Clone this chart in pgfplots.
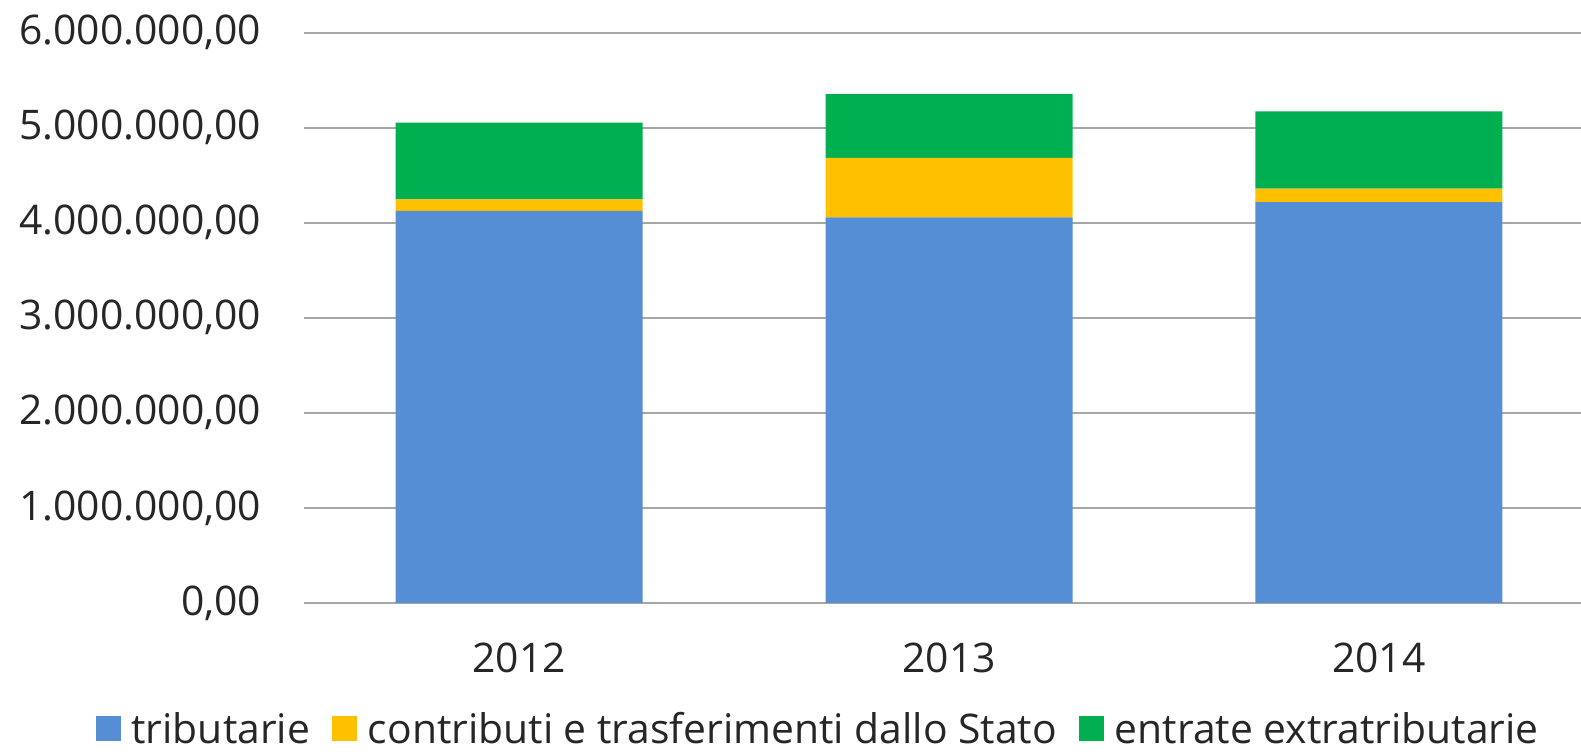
\documentclass[border=0pt]{standalone}
\usepackage{fontspec}
\setmainfont{Open Sans}
\usepackage{pgfplots}
\pgfplotsset{compat=1.18}
\definecolor{cblue}{HTML}{558ED5}
\definecolor{cyellow}{HTML}{FFC000}
\definecolor{cgreen}{HTML}{00B050}
\definecolor{gridgray}{HTML}{A6A6A6}
\definecolor{txt}{HTML}{262626}
\begin{document}
\begin{tikzpicture}
\begin{axis}[
  scale only axis, width=638.2pt, height=285pt,
  xmin=-0.5, xmax=2.47, ymin=0, ymax=6000000,
  ybar stacked, bar width=123.5pt,
  xtick={0,1,2}, xticklabels={2012,2013,2014},
  ytick={0,1000000,2000000,3000000,4000000,5000000,6000000},
  axis line style={draw=none},
  tick style={draw=none},
  ymajorgrids, grid style={color=gridgray, line width=1pt},
  scaled y ticks=false,
  /pgf/number format/fixed,
  /pgf/number format/fixed zerofill,
  /pgf/number format/precision=2,
  /pgf/number format/use comma,
  /pgf/number format/1000 sep={.},
  /pgf/number format/assume math mode=true,
  tick label style={font=\fontsize{20.4pt}{24pt}\selectfont, text=txt},
  yticklabel style={xshift=-18pt},
  xticklabel style={yshift=-16.5pt},
  legend style={draw=none, legend columns=3, at={(0.4017,-0.2197)}, anchor=center,
    font=\fontsize{20.4pt}{24pt}\selectfont, text=txt,
    inner sep=0pt,
    nodes={inner xsep=0pt, inner ysep=0pt, text depth=0pt},
    /tikz/every odd column/.append style={column sep=5.5pt},
    /tikz/every even column/.append style={column sep=11pt}},
  legend image code/.code={\fill[#1] (0pt,-6.25pt) rectangle (12.5pt,6.25pt);},
]
\addplot[fill=cblue, draw=none] coordinates {(0,4126000) (1,4057000) (2,4218000)};
\addplot[fill=cyellow, draw=none] coordinates {(0,120000) (1,627000) (2,140000)};
\addplot[fill=cgreen, draw=none] coordinates {(0,807000) (1,671000) (2,815000)};
\legend{tributarie, contributi e trasferimenti dallo Stato, entrate extratributarie}
\end{axis}
\pgfresetboundingbox
\path[use as bounding box] ([shift={(-152.05pt,-75.15pt)}]current axis.south west) rectangle ([shift={(0pt,16.35pt)}]current axis.north east);
\end{tikzpicture}
\end{document}
